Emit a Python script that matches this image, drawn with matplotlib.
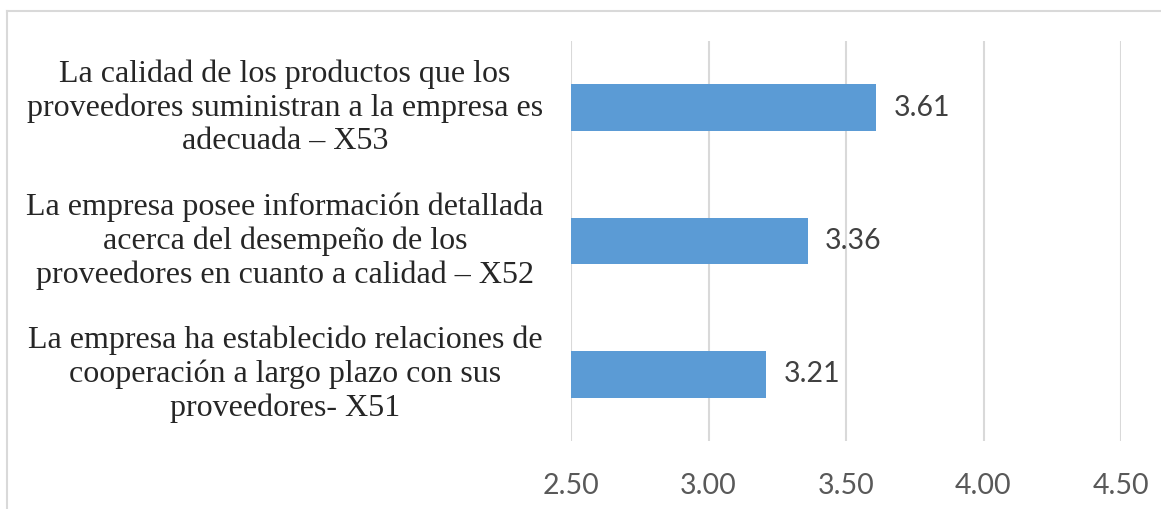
"""
Horizontal bar chart of supplier-quality indicators (X51-X53).
"""

import matplotlib
matplotlib.use('Agg')
import matplotlib.pyplot as plt
from matplotlib.lines import Line2D
from matplotlib.transforms import blended_transform_factory

# data, bottom to top
labels = [
    'La empresa ha establecido relaciones de\ncooperación a largo plazo con sus\nproveedores- X51',
    'La empresa posee información detallada\nacerca del desempeño de los\nproveedores en cuanto a calidad – X52',
    'La calidad de los productos que los\nproveedores suministran a la empresa es\nadecuada – X53',
]
values = [3.21, 3.36, 3.61]
xticks = [2.50, 3.00, 3.50, 4.00, 4.50]

W, H, dpi = 1161, 509, 100
fig = plt.figure(figsize=(W/dpi, H/dpi), dpi=dpi)
ax = fig.add_axes([571/W, 1-441/H, (1121-571)/W, 400/H])  # [left bottom width height]

ypos = list(range(len(values)))
ax.barh(ypos, [v - xticks[0] for v in values], left=xticks[0], height=0.35,
        color='#5B9BD5', zorder=3)

for y, v in zip(ypos, values):
    ax.text(v + 0.062, y, '{0:.2f}'.format(v), va='center', ha='left',
            fontsize=20.5, family='Lato', color='#404040')

ax.set_xlim(xticks[0], xticks[-1])
ax.set_ylim(-0.5, len(values) - 0.5)
ax.set_xticks(xticks)
ax.set_xticklabels(['{0:.2f}'.format(t) for t in xticks], fontsize=20.5,
                   family='Lato', color='#595959')
ax.tick_params(axis='x', length=0, pad=23)
ax.set_yticks([])
ax.grid(axis='x', color='#D9D9D9', linewidth=1.5, zorder=0)
for s in ax.spines.values():
    s.set_visible(False)

# category labels, centred in the left margin
trans = blended_transform_factory(fig.transFigure, ax.transData)
for y, lab in zip(ypos, labels):
    ax.text(285/W, y, lab, transform=trans, ha='center', va='center',
            fontsize=23, family='Liberation Serif', color='#262626',
            linespacing=1.2)

# chart frame (top and left edges visible)
fig.add_artist(Line2D([7/W, 7/W], [0, 1-11/H], transform=fig.transFigure,
                      color='#D9D9D9', linewidth=1.5))
fig.add_artist(Line2D([7/W, 1], [1-11/H, 1-11/H], transform=fig.transFigure,
                      color='#D9D9D9', linewidth=1.5))

fig.savefig('out.png', dpi=dpi)
